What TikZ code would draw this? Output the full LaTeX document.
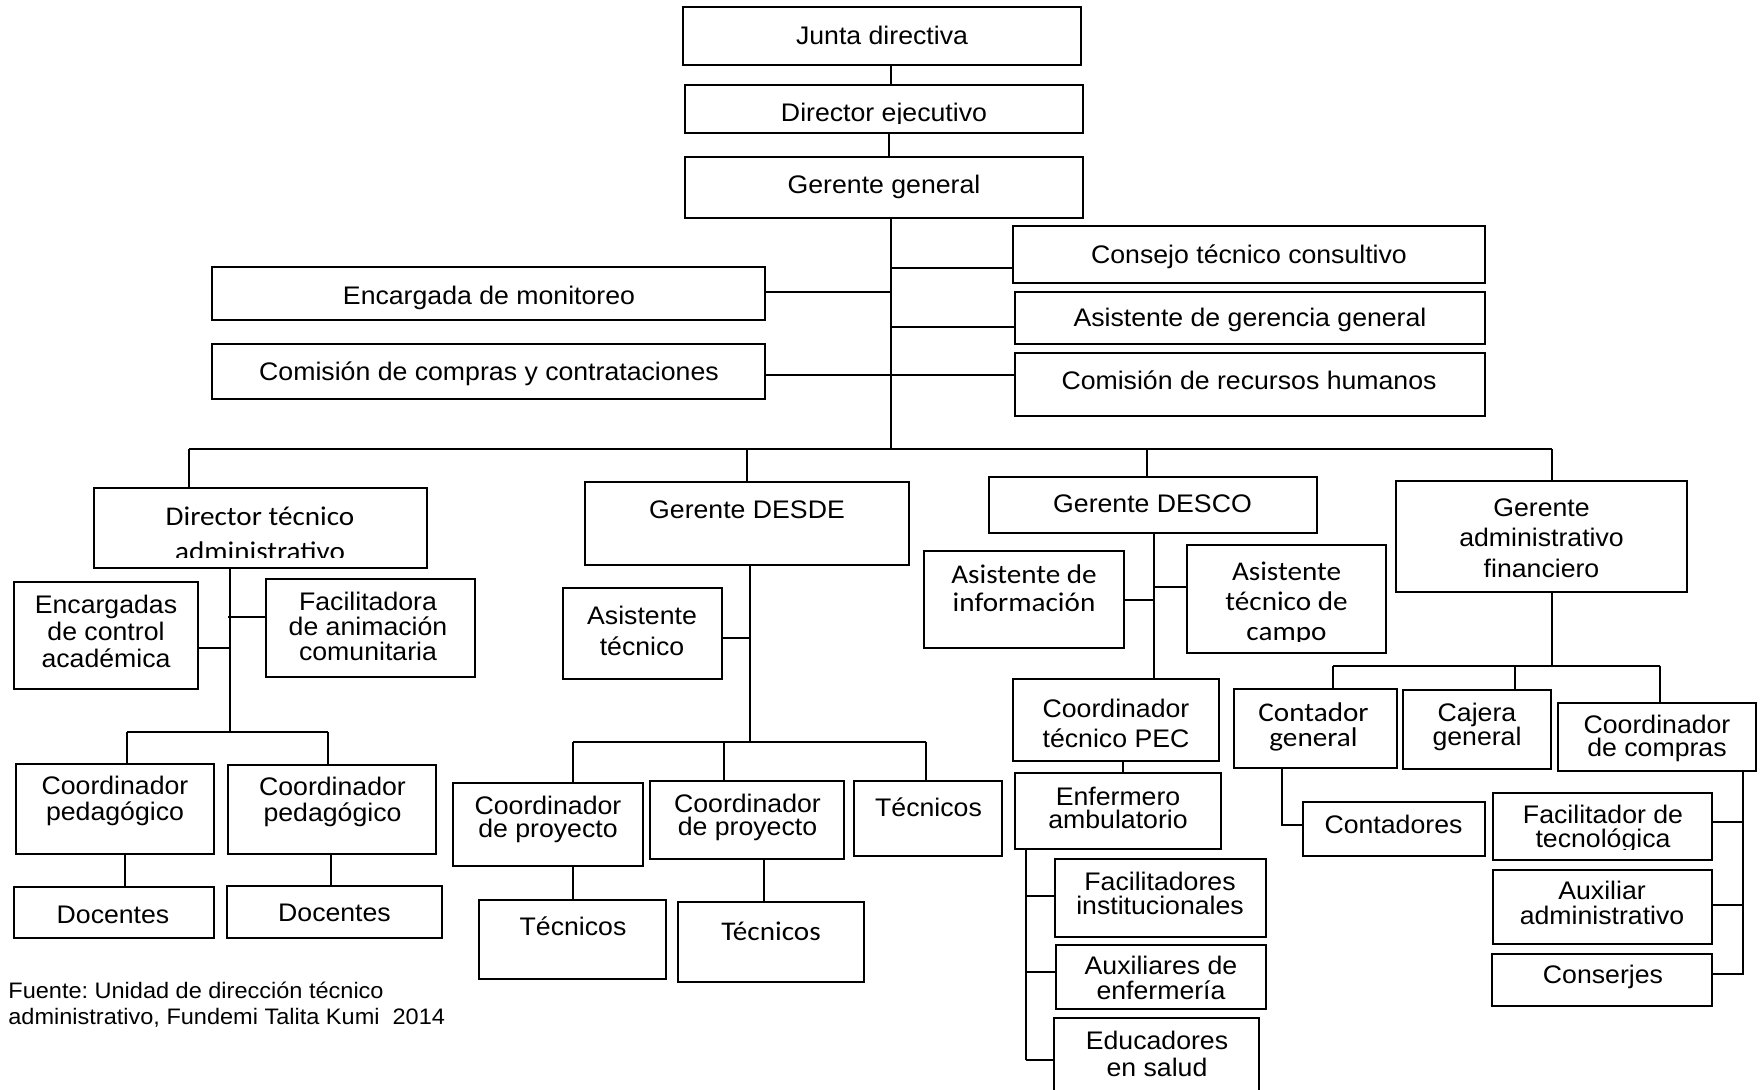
\documentclass[tikz,border=0pt]{standalone}
\usepackage{fontspec}
\setmainfont{Liberation Sans}[FakeStretch=1.05]
\newfontfamily\calfont{Carlito}[FakeStretch=1.08]
\usetikzlibrary{fit}
\frenchspacing
\newcommand\arsz[1]{\fontsize{12.7pt}{#1}\selectfont}
\newcommand\casz[1]{\calfont\fontsize{13.5pt}{#1}\selectfont}
\tikzset{
  box/.style={draw, line width=1pt, inner sep=0pt},
  ln/.style={line width=1pt},
  tx/.style={inner sep=0pt, align=center, font=\arsz{13.5pt}},
  sl/.style={text height=9.1pt, text depth=0pt},
  csl/.style={text height=8.7pt, text depth=0pt},
}
\begin{document}
\begin{tikzpicture}[x=0.5pt, y=-0.5pt]
\useasboundingbox (0,0) rectangle (1760,1089);
\fill[white] (0,0) rectangle (1760,1089);
\clip (0,0) rectangle (1760,1089);

% ---------- boxes ----------
\node[box, fit={(683,7) (1081,65)}] (jd) {};
\node[box, fit={(685,85) (1083,133)}] (de) {};
\node[box, fit={(685,157) (1083,218)}] (gg) {};
\node[box, fit={(1013,226) (1485,283)}] (ctc) {};
\node[box, fit={(1015,292) (1485,344)}] (agg) {};
\node[box, fit={(1015,353) (1485,416)}] (crh) {};
\node[box, fit={(212,267) (765,320)}] (em) {};
\node[box, fit={(212,344) (765,399)}] (ccc) {};

\node[box, fit={(94,488) (427,568)}] (dta) {};
\node[box, fit={(14,582) (198,689)}] (enc) {};
\node[box, fit={(266,579) (475,677)}] (fac) {};
\node[box, fit={(16,764) (214,854)}] (cp1) {};
\node[box, fit={(228,765) (436,854)}] (cp2) {};
\node[box, fit={(14,887) (214,938)}] (doc1) {};
\node[box, fit={(227,886) (442,938)}] (doc2) {};

\node[box, fit={(585,482) (909,565)}] (gdesde) {};
\node[box, fit={(563,588) (722,679)}] (at) {};
\node[box, fit={(453,783) (643,866)}] (cpr1) {};
\node[box, fit={(650,781) (844,859)}] (cpr2) {};
\node[box, fit={(854,781) (1002,856)}] (tec0) {};
\node[box, fit={(479,900) (666,979)}] (tec1) {};
\node[box, fit={(678,902) (864,982)}] (tec2) {};

\node[box, fit={(989,477) (1317,533)}] (gdesco) {};
\node[box, fit={(924,551) (1124,648)}] (ainf) {};
\node[box, fit={(1187,545) (1386,653)}] (atc) {};
\node[box, fit={(1013,679) (1219,761)}] (cpec) {};
\node[box, fit={(1015,773) (1221,849)}] (enf) {};
\node[box, fit={(1055,859) (1266,937)}] (fi) {};
\node[box, fit={(1056,945) (1266,1009)}] (ae) {};
\node[box, fit={(1054,1018) (1259,1095)}] (es) {};

\node[box, fit={(1396,481) (1687,592)}] (gaf) {};
\node[box, fit={(1234,689) (1397,768)}] (cg) {};
\node[box, fit={(1403,690) (1551,769)}] (cj) {};
\node[box, fit={(1558,703) (1756,771)}] (ccomp) {};
\node[box, fit={(1303,802) (1485,856)}] (cont) {};
\node[box, fit={(1493,793) (1712,860)}] (ft) {};
\node[box, fit={(1493,870) (1712,944)}] (aa) {};
\node[box, fit={(1492,954) (1712,1006)}] (cs) {};

% ---------- texts ----------
\node[tx, sl] (jd-t) at (882,35) {Junta directiva};
\begin{scope}
  \clip (685,85) rectangle (1083,123);
  \node[tx, sl] (de-t) at (884,112) {Director ejecutivo};
\end{scope}
\node[tx, sl] (gg-t) at (884,184) {Gerente general};
\node[tx, sl] (ctc-t) at (1249,254) {Consejo técnico consultivo};
\node[tx, sl] (agg-t) at (1250,317.5) {Asistente de gerencia general};
\node[tx, sl] (crh-t) at (1249,380) {Comisión de recursos humanos};
\node[tx, sl] (em-t) at (489,295.5) {Encargada de monitoreo};
\node[tx, sl] (ccc-t) at (489,371.5) {Comisión de compras y contrataciones};

\begin{scope}
  \clip (94,488) rectangle (427,557);
  \node[tx, font=\casz{17.5pt}] (dta-t) at (260,534) {Director técnico\\administrativo};
\end{scope}
\node[tx] (enc-t) at (106,631) {Encargadas\\de control\\académica};
\node[tx, font=\arsz{12.5pt}] (fac-t) at (368,626) {Facilitadora\\de animación\\comunitaria};
\node[tx, font=\arsz{13pt}] (cp1-t) at (115,801) {Coordinador\\pedagógico};
\node[tx, font=\arsz{13pt}] (cp2-t) at (332.5,802) {Coordinador\\pedagógico};
\node[tx, sl] (doc1-t) at (113,914) {Docentes};
\node[tx, sl] (doc2-t) at (334.5,912.5) {Docentes};

\node[tx, sl] (gdesde-t) at (747,509) {Gerente DESDE};
\node[tx, font=\arsz{15.5pt}] (at-t) at (642,630.5) {Asistente\\técnico};
\node[tx, font=\arsz{11.5pt}] (cpr1-t) at (548,819) {Coordinador\\de proyecto};
\node[tx, font=\arsz{11.5pt}] (cpr2-t) at (747.5,817) {Coordinador\\de proyecto};
\node[tx, sl] (tec0-t) at (928.5,807.5) {Técnicos};
\node[tx, sl] (tec1-t) at (573,926.5) {Técnicos};
\node[tx, csl, font=\casz{15pt}] (tec2-t) at (771,931.5) {Técnicos};

\node[tx, sl] (gdesco-t) at (1152.5,503.5) {Gerente DESCO};
\node[tx, font=\casz{14pt}] (ainf-t) at (1024,588.5) {Asistente de\\información};
\begin{scope}
  \clip (1187,545) rectangle (1386,641);
  \node[tx, font=\casz{15pt}] (atc-t) at (1286.5,603.5) {Asistente\\técnico de\\campo};
\end{scope}
\node[tx, font=\arsz{15pt}] (cpec-t) at (1116,723.5) {Coordinador\\técnico PEC};
\node[tx, font=\arsz{11.5pt}] (enf-t) at (1118,808) {Enfermero\\ambulatorio};
\node[tx, font=\arsz{11.75pt}] (fi-t) at (1160,893.5) {Facilitadores\\institucionales};
\node[tx, font=\arsz{12.25pt}] (ae-t) at (1161,978) {Auxiliares de\\enfermería};
\node[tx, font=\arsz{13.5pt}] (es-t) at (1157,1054) {Educadores\\en salud};

\node[tx, font=\arsz{15.25pt}] (gaf-t) at (1541.5,538) {Gerente\\administrativo\\financiero};
\node[tx, font=\casz{12.5pt}] (cg-t) at (1313.5,727) {Contador\\general};
\node[tx, font=\arsz{12pt}] (cj-t) at (1477,727) {Cajera\\general};
\node[tx, font=\arsz{11.5pt}] (ccomp-t) at (1657,738) {Coordinador\\de compras};
\node[tx, sl] (cont-t) at (1393.5,824) {Contadores};
\begin{scope}
  \clip (1493,793) rectangle (1712,849);
  \node[tx, font=\arsz{11.75pt}] (ft-t) at (1603,829) {Facilitador de\\tecnológica};
\end{scope}
\node[tx, font=\arsz{12.3pt}] (aa-t) at (1602,903) {Auxiliar\\administrativo};
\node[tx, sl] (cs-t) at (1603,974) {Conserjes};

\node[inner sep=0pt, align=left, anchor=west, font=\fontsize{11.2pt}{13pt}\selectfont] (src) at (8,1005)
  {Fuente: Unidad de dirección técnico\\administrativo, Fundemi Talita Kumi~~2014};

% ---------- connectors: top ----------
\coordinate (sp) at (891,449);
\coordinate (busL) at (189,449);
\coordinate (busR) at (1552,449);
\coordinate (dD) at (747,449);
\coordinate (dC) at (1147,449);
\draw[ln] (jd.south -| sp) -- (de.north -| sp);
\draw[ln] ([xshift=-1pt]de.south -| sp) -- ([xshift=-1pt]gg.north -| sp);
\draw[ln] (gg.south -| sp) -- (sp);
\coordinate (kc) at (891,268);
\coordinate (ka) at (891,327);
\coordinate (ke) at (891,292);
\coordinate (kk) at (891,375);
\draw[ln] (kc) -- (kc -| ctc.west);
\draw[ln] (ka) -- (ka -| agg.west);
\draw[ln] (ke) -- (ke -| em.east);
\draw[ln] (kk -| ccc.east) -- (kk -| crh.west);
\draw[ln] (busL) -- (busR);
\draw[ln] (busL) -- (busL |- dta.north);
\draw[ln] (dD) -- (dD |- gdesde.north);
\draw[ln] (dC) -- (dC |- gdesco.north);
\draw[ln] (busR) -- (busR |- gaf.north);

% ---------- left branch ----------
\coordinate (sL) at (230,732);
\coordinate (bL1) at (127,732);
\coordinate (bL2) at (328,732);
\draw[ln] (dta.south -| sL) -- (sL);
\draw[ln] (bL1) -- (bL2);
\draw[ln] (bL1) -- (bL1 |- cp1.north);
\draw[ln] (bL2) -- (bL2 |- cp2.north);
\coordinate (ken) at (230,648);
\coordinate (kf) at (228,617);
\draw[ln] (ken) -- (ken -| enc.east);
\draw[ln] (kf) -- (kf -| fac.west);
\coordinate (v1) at (125,870);
\coordinate (v2) at (331,870);
\draw[ln] (cp1.south -| v1) -- (doc1.north -| v1);
\draw[ln] (cp2.south -| v2) -- (doc2.north -| v2);

% ---------- DESDE branch ----------
\coordinate (sD) at (750,742);
\coordinate (bD1) at (573,742);
\coordinate (bD2) at (724,742);
\coordinate (bD3) at (926,742);
\draw[ln] (gdesde.south -| sD) -- (sD);
\draw[ln] (bD1) -- (bD3);
\draw[ln] (bD1) -- (bD1 |- cpr1.north);
\draw[ln] (bD2) -- (bD2 |- cpr2.north);
\draw[ln] (bD3) -- (bD3 |- tec0.north);
\coordinate (kat) at (750,638);
\draw[ln] (kat) -- (kat -| at.east);
\coordinate (w1) at (573,880);
\coordinate (w2) at (764,880);
\draw[ln] (cpr1.south -| w1) -- (tec1.north -| w1);
\draw[ln] (cpr2.south -| w2) -- (tec2.north -| w2);

% ---------- DESCO branch ----------
\coordinate (sC) at (1154,600);
\draw[ln] (gdesco.south -| sC) -- (cpec.north -| sC);
\coordinate (kai) at (1154,600);
\coordinate (kt) at (1154,587);
\draw[ln] (kai) -- (kai -| ainf.east);
\draw[ln] (kt) -- (kt -| atc.west);
\coordinate (pe) at (1123,767);
\draw[ln] (cpec.south -| pe) -- (enf.north -| pe);
\coordinate (vE) at (1026,1060);
\draw[ln] (enf.south -| vE) -- (vE);
\coordinate (kfi) at (1026,896);
\coordinate (kae) at (1026,972);
\draw[ln] (kfi) -- (kfi -| fi.west);
\draw[ln] (kae) -- (kae -| ae.west);
\draw[ln] (vE) -- (vE -| es.west);

% ---------- GAF branch ----------
\coordinate (sF) at (1552,666);
\coordinate (bF1) at (1333,666);
\coordinate (bF2) at (1515,666);
\coordinate (bF3) at (1660,666);
\draw[ln] (gaf.south -| sF) -- (sF);
\draw[ln] (bF1) -- (bF3);
\draw[ln] (bF1) -- (bF1 |- cg.north);
\draw[ln] (bF2) -- (bF2 |- cj.north);
\draw[ln] (bF3) -- (bF3 |- ccomp.north);
\coordinate (kcg) at (1282,825);
\draw[ln] (cg.south -| kcg) -- (kcg) -- (kcg -| cont.west);
\coordinate (vF) at (1743,974);
\draw[ln] (ccomp.south -| vF) -- (vF) -- (vF -| cs.east);
\coordinate (kft) at (1743,822);
\coordinate (kaa) at (1743,905);
\draw[ln] (kft) -- (kft -| ft.east);
\draw[ln] (kaa) -- (kaa -| aa.east);
\end{tikzpicture}
\end{document}
